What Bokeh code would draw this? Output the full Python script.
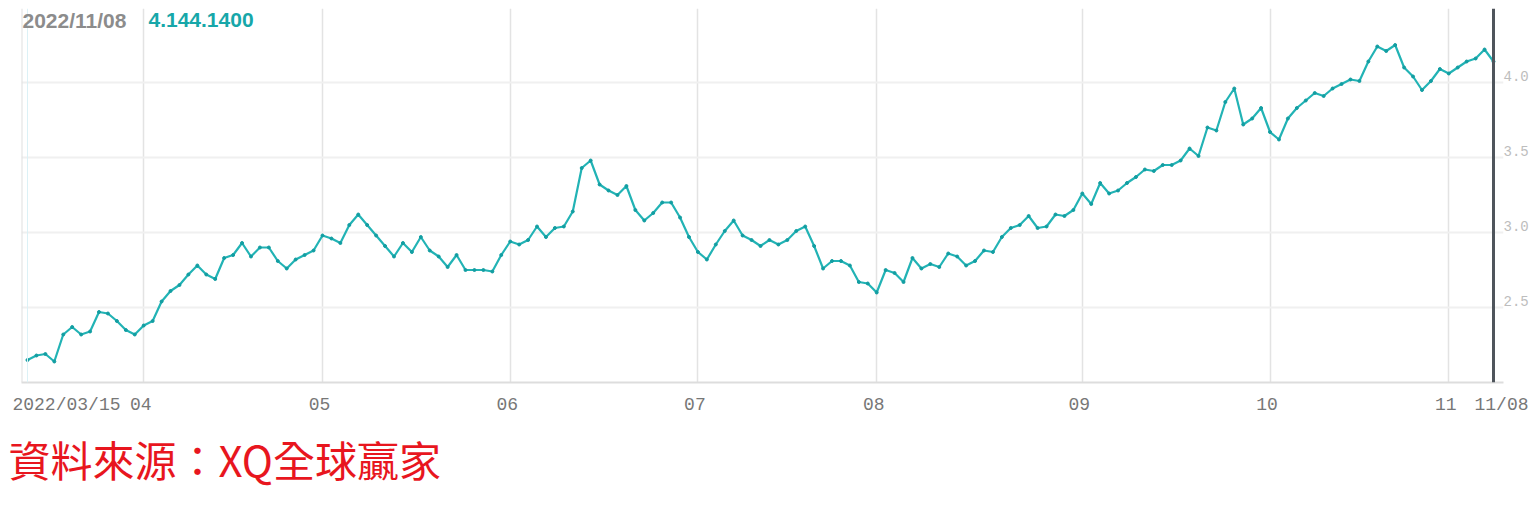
from bokeh.plotting import figure
from bokeh.models import FixedTicker, PrintfTickFormatter, Span, Label, Title, Range1d, ColumnDataSource
from bokeh.embed import file_html
from bokeh.resources import INLINE

# ---------------- data ----------------
header_date = "2022/11/08"
header_value = "4.144.1400"
source_note = "資料來源：XQ全球贏家"

yields = [
    2.15, 2.18, 2.19, 2.14, 2.32, 2.37, 2.32, 2.34, 2.47, 2.46, 2.41, 2.35, 2.32,
    2.38, 2.41, 2.54, 2.61, 2.65, 2.72, 2.78, 2.72, 2.69, 2.83, 2.85, 2.93, 2.84,
    2.90, 2.90, 2.81, 2.76, 2.82, 2.85, 2.88,
    2.98, 2.96, 2.93, 3.05, 3.12, 3.05, 2.98, 2.91, 2.84, 2.93, 2.87, 2.97, 2.88,
    2.84, 2.77, 2.85, 2.75, 2.75, 2.75, 2.74, 2.85,
    2.94, 2.92, 2.95, 3.04, 2.97, 3.03, 3.04, 3.14, 3.43, 3.48, 3.32, 3.28, 3.25,
    3.31, 3.15, 3.08, 3.13, 3.20, 3.20, 3.10, 2.97,
    2.87, 2.82, 2.92, 3.01, 3.08, 2.98, 2.95, 2.91, 2.95, 2.92, 2.95, 3.01, 3.04,
    2.91, 2.76, 2.81, 2.81, 2.78, 2.67, 2.66,
    2.60, 2.75, 2.73, 2.67, 2.83, 2.76, 2.79, 2.77, 2.86, 2.84, 2.78, 2.81, 2.88,
    2.87, 2.97, 3.03, 3.05, 3.11, 3.03, 3.04, 3.12, 3.11, 3.15,
    3.26, 3.19, 3.33, 3.26, 3.28, 3.33, 3.37, 3.42, 3.41, 3.45, 3.45, 3.48, 3.56,
    3.51, 3.70, 3.68, 3.87, 3.96, 3.72, 3.76, 3.83,
    3.67, 3.62, 3.76, 3.83, 3.88, 3.93, 3.91, 3.96, 3.99, 4.02, 4.01, 4.14, 4.24,
    4.21, 4.25, 4.10, 4.04, 3.95, 4.01, 4.09,
    4.06, 4.10, 4.14, 4.16, 4.22, 4.14,
]
day_index = list(range(len(yields)))
month_tick_index = [0, 13, 33, 54, 75, 95, 118, 139, 159, 164]
month_tick_labels = ["2022/03/15", "04", "05", "06", "07", "08", "09", "10", "11", "11/08"]
y_ticks = [2.5, 3.0, 3.5, 4.0]

# ---------------- geometry / style ----------------
PX = 8.94            # pixels per trading day
PX_Y = 150.0         # pixels per 1.0 of yield
x_start = -6 / PX
x_end = day_index[-1] + 10 / PX
y_start = 2.0
y_end = 4.0 + 74 / PX_Y

frame_w = int(round((x_end - x_start) * PX))
frame_h = int(round((y_end - y_start) * PX_Y))

p = figure(
    frame_width=frame_w, frame_height=frame_h,
    x_range=Range1d(x_start, x_end), y_range=Range1d(y_start, y_end),
    y_axis_location="right", toolbar_location=None, output_backend="svg",
    min_border_left=21, min_border_top=8, min_border_right=0, min_border_bottom=6,
    background_fill_color="white", border_fill_color="white",
)
p.outline_line_color = None

# x axis: labels (nudged in pixels), no tick marks
nudge_px = {0: 39, 164: 8}
label_pos = [round(i + nudge_px.get(i, -3) / PX, 3) for i in month_tick_index]
p.xaxis.ticker = FixedTicker(ticks=label_pos)
p.xaxis.major_label_overrides = {pos: lab for pos, lab in zip(label_pos, month_tick_labels)}
p.xaxis.major_tick_out = 0
p.xaxis.major_tick_in = 0
p.xaxis.minor_tick_line_color = None
p.xaxis.axis_line_color = "#dddddd"
p.xaxis.axis_line_width = 2
p.xaxis.major_label_standoff = 12
p.xaxis.major_label_text_font = "Liberation Mono"
p.xaxis.major_label_text_font_size = "18px"
p.xaxis.major_label_text_color = "#777777"

# y axis on the right, labels sit just above their gridlines
p.yaxis.ticker = FixedTicker(ticks=[v + 7 / PX_Y for v in y_ticks])
p.yaxis.formatter = PrintfTickFormatter(format="%.1f")
p.yaxis.major_tick_out = 0
p.yaxis.major_tick_in = 0
p.yaxis.minor_tick_line_color = None
p.yaxis.axis_line_color = None
p.yaxis.major_label_standoff = 0
p.yaxis.major_label_text_font = "Liberation Mono"
p.yaxis.major_label_text_font_size = "14px"
p.yaxis.major_label_text_color = "#bdbdbd"

# grids
p.xgrid.ticker = FixedTicker(ticks=month_tick_index[1:-1])
p.xgrid.grid_line_color = "#e3e3e3"
p.xgrid.grid_line_width = 1.5
p.ygrid.ticker = FixedTicker(ticks=y_ticks)
p.ygrid.grid_line_color = "#f0f0f0"
p.ygrid.grid_line_width = 2

# frame left edge and faint start marker
p.add_layout(Span(location=x_start, dimension="height", line_color="#e0e0e0", line_width=2))
p.add_layout(Span(location=day_index[0], dimension="height", line_color="#dcf1f6", line_width=1))

# the series
src = ColumnDataSource(dict(x=day_index, y=yields))
p.line("x", "y", source=src, line_color="#22b3b5", line_width=2.2)
p.scatter("x", "y", source=src, size=3, color="#139ea2")

# cursor line at the latest day
p.add_layout(Span(location=day_index[-1], dimension="height", line_color="#4f555c", line_width=3))

# header readout
p.add_layout(Label(x=x_start + 1 / PX, y=4.0 + (82 - 19.5) / PX_Y, text=header_date,
                   text_font="Liberation Sans", text_font_size="21px", text_font_style="bold",
                   text_color="#8c8c8c", text_baseline="middle", text_align="left"))
p.add_layout(Label(x=day_index[0] + 121 / PX, y=4.0 + (82 - 19.5) / PX_Y, text=header_value,
                   text_font="Liberation Sans", text_font_size="21px", text_font_style="bold",
                   text_color="#17a7a9", text_baseline="middle", text_align="left"))

# source note below the chart
p.add_layout(Title(text=source_note, align="left", offset=-13, standoff=16,
                   text_font="Noto Sans CJK TC", text_font_size="42px",
                   text_font_style="normal", text_color="#e8161e"), "below")

open("out.html", "w").write(file_html(p, INLINE))
